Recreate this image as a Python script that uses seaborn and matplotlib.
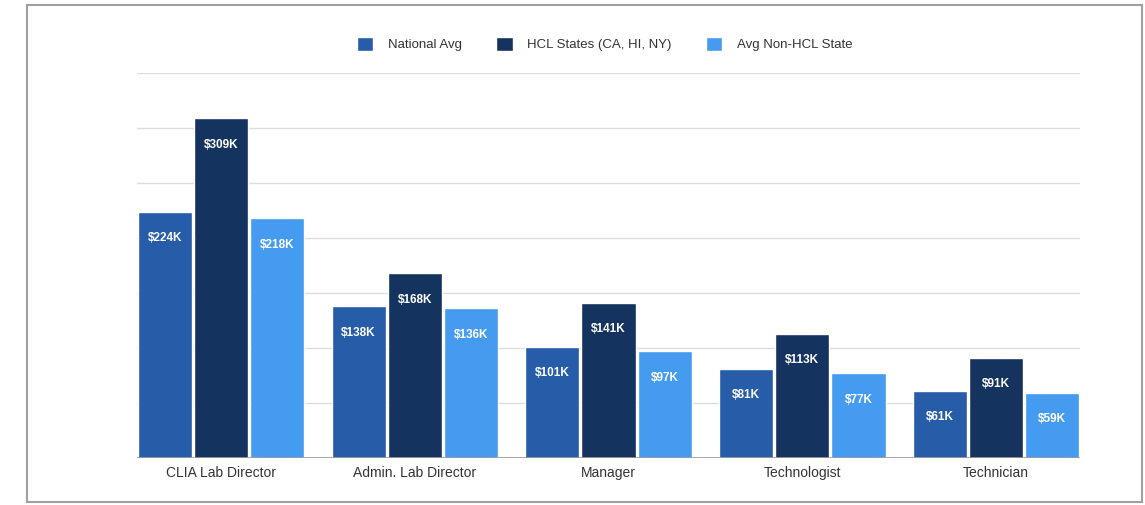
import matplotlib
matplotlib.use("Agg")
import matplotlib.pyplot as plt
import seaborn as sns
import pandas as pd
from matplotlib.patches import Rectangle

categories = ["CLIA Lab Director", "Admin. Lab Director", "Manager", "Technologist", "Technician"]
series = ["National Avg", "HCL States (CA, HI, NY)", "Avg Non-HCL State"]
national_avg = [224, 138, 101, 81, 61]
hcl_states = [309, 168, 141, 113, 91]
non_hcl = [218, 136, 97, 77, 59]
colors = ["#265CA8", "#14335F", "#459BF0"]

rows = []
for s, vals in zip(series, [national_avg, hcl_states, non_hcl]):
    for c, v in zip(categories, vals):
        rows.append({"Role": c, "Series": s, "Value": v})
df = pd.DataFrame(rows)

sns.set_theme(style="white")
plt.rcParams["font.family"] = ["Liberation Sans", "DejaVu Sans"]

fig = plt.figure(figsize=(11.45, 5.05), dpi=100)
ax = fig.add_axes([0.1197, 0.0931, 0.8235, 0.7623])

sns.barplot(data=df, x="Role", y="Value", hue="Series", order=categories,
            hue_order=series, palette=colors, width=0.868, gap=0.035,
            saturation=1, ax=ax, legend=True)

ax.set_ylim(0, 350)
ax.set_xlim(-0.432, 4.432)
ax.set_yticks([50, 100, 150, 200, 250, 300, 350])
ax.set_yticklabels([])
ax.tick_params(axis="y", length=0)
ax.grid(axis="y", color="#dddddd", linewidth=1)
ax.set_axisbelow(True)
for sp in ax.spines.values():
    sp.set_visible(False)
ax.axhline(0, color="#9a9a9a", linewidth=1.2, zorder=5)
ax.set_xlabel("")
ax.set_ylabel("")
ax.tick_params(axis="x", length=0, pad=6, labelsize=10, labelcolor="#333333")

for cont in ax.containers:
    for bar in cont:
        h = bar.get_height()
        ax.annotate(f"${int(round(h))}K", (bar.get_x() + bar.get_width() / 2, h),
                    xytext=(0, -19), textcoords="offset points",
                    ha="center", va="center", color="white",
                    fontsize=8.5, fontweight="bold")

handles, labels = ax.get_legend_handles_labels()
ax.legend_.remove()
fig.legend(handles, labels, loc="center", bbox_to_anchor=(0.528, 0.913), ncol=3,
           frameon=False, fontsize=9.5, handlelength=1.25, handleheight=1.25,
           columnspacing=2.6, handletextpad=1.1, labelcolor="#333333")

fig.patches.append(Rectangle((27 / 1145, 1 - 502 / 505), (1142 - 27) / 1145, (502 - 5) / 505,
                             transform=fig.transFigure, fill=False,
                             edgecolor="#a0a0a0", linewidth=1.5))

fig.savefig("out.png", dpi=100)
